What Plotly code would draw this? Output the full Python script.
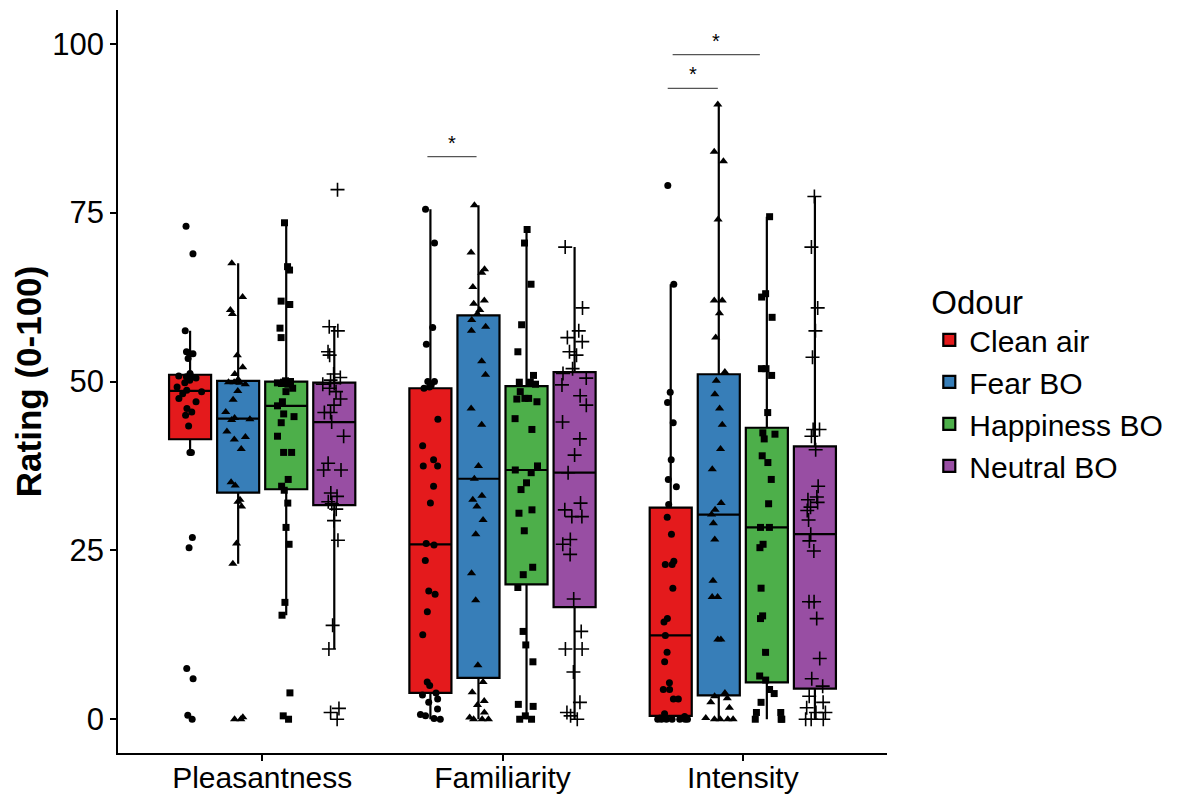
import plotly.graph_objects as go

# ---------------- data ----------------
categories = ["Pleasantness", "Familiarity", "Intensity"]
odours = ["Clean air", "Fear BO", "Happiness BO", "Neutral BO"]
colors = ["#E41A1C", "#377EB8", "#4DAF4A", "#984EA3"]
symbols = ["circle", "triangle-up", "square", "cross-thin"]

clean_air_pleasantness = [0, 0.6, 6.0, 7.5, 25.4, 26.9, 39.5, 39.5, 43.4, 45.0, 45.5, 46.0, 47.0, 47.5,
                          48.2, 48.5, 48.7, 49.2, 49.8, 50.2, 50.5, 50.7, 50.7, 50.8, 51.2, 53.4, 54.1,
                          54.1, 54.4, 57.5, 68.9, 73.0]
fear_pleasantness = [0, 0, 0.3, 23.0, 26.0, 31.5, 32.2, 32.5, 34.6, 35.1, 40.0, 41.4, 41.8, 42.6, 44.3,
                     44.4, 44.6, 45.5, 47.3, 48.6, 49.6, 49.8, 49.9, 49.9, 50.3, 51.1, 52.1, 53.9, 60.0,
                     60.6, 62.5, 67.5]
happiness_pleasantness = [0, 0.5, 3.9, 15.4, 17.3, 25.9, 28.4, 32.0, 33.9, 34.5, 35.5, 39.5, 39.5, 41.9,
                          43.9, 44.8, 45.2, 46.4, 47.0, 48.5, 49.0, 49.6, 49.7, 49.8, 49.9, 49.9, 50.0,
                          50.1, 56.5, 57.9, 61.4, 61.9, 66.5, 67.0, 73.5]
neutral_pleasantness = [0, 1.0, 1.6, 10.4, 13.9, 26.5, 29.4, 31.1, 31.9, 32.2, 33.0, 33.5, 36.9, 36.9,
                        37.9, 41.9, 44.0, 45.4, 45.4, 46.5, 47.4, 48.5, 49.0, 49.6, 49.7, 50.2, 50.6,
                        51.1, 53.9, 54.4, 57.5, 58.1, 78.4]

clean_air_familiarity = [0, 0.1, 0.5, 0.7, 1.5, 2.5, 3.0, 3.6, 3.9, 5.0, 5.5, 12.5, 15.9, 18.5, 19.0,
                         23.5, 25.8, 26.0, 32.0, 34.5, 37.5, 37.5, 38.4, 40.5, 44.4, 49.0, 49.2, 49.5,
                         50.0, 50.0, 55.5, 58.0, 70.5, 75.5]
fear_familiarity = [0, 0, 0, 0.25, 1.0, 2.1, 2.7, 4.0, 5.5, 8.0, 17.6, 21.6, 27.4, 29.5, 31.5, 32.5,
                    33.1, 35.6, 37.5, 43.6, 46.0, 51.0, 53.0, 57.5, 58.1, 59.1, 60.0, 60.6, 61.5, 62.0,
                    64.0, 66.1, 66.6, 69.1, 76.1]
happiness_familiarity = [0, 0, 0.5, 1.9, 2.2, 8.5, 11.0, 13.0, 19.5, 21.4, 22.5, 27.9, 30.5, 31.0, 34.0,
                         35.0, 36.5, 36.9, 37.5, 42.9, 44.5, 47.0, 47.4, 47.5, 47.5, 48.5, 49.6, 49.9,
                         49.9, 50.9, 54.4, 58.4, 64.4, 70.5, 72.5]
neutral_familiarity = [0, 0.5, 1.0, 2.5, 7.0, 10.4, 10.4, 13.0, 17.8, 24.4, 25.9, 26.6, 30.0, 30.0, 31.0,
                       32.0, 36.5, 39.1, 41.5, 44.0, 46.5, 47.9, 49.5, 50.5, 51.2, 51.9, 53.9, 54.4,
                       55.9, 56.5, 57.5, 60.9, 69.9]

clean_air_intensity = [0, 0, 0, 0, 0, 0, 0, 0.2, 0.4, 0.8, 3.0, 3.0, 4.4, 4.4, 5.4, 8.5, 9.9, 12.4,
                       14.4, 14.9, 19.4, 22.9, 22.9, 23.4, 27.4, 29.9, 31.8, 34.4, 35.5, 38.4, 43.9,
                       46.9, 48.4, 64.4, 79.0]
fear_intensity = [0, 0, 0, 0, 0.2, 1.7, 2.5, 3.1, 3.4, 3.9, 11.8, 11.8, 18.1, 18.1, 20.5, 26.6, 29.0,
                  30.3, 31.0, 32.0, 37.0, 40.0, 43.6, 46.0, 48.1, 50.1, 51.4, 56.5, 60.1, 62.0, 62.0,
                  74.0, 82.6, 84.0, 91.0]
happiness_intensity = [0, 0, 0, 1.0, 1.0, 2.5, 3.8, 4.4, 5.8, 6.4, 9.9, 14.9, 15.3, 19.4, 25.4, 25.9,
                       28.4, 28.4, 31.9, 35.5, 38.0, 39.0, 41.5, 42.2, 42.4, 45.4, 50.9, 51.9, 51.9,
                       59.5, 62.5, 63.0, 74.4]
neutral_intensity = [0, 0, 0, 1.0, 1.0, 1.7, 2.5, 3.4, 4.9, 6.0, 9.0, 14.9, 17.4, 17.4, 24.9, 26.4,
                     27.4, 29.5, 30.9, 31.4, 32.1, 32.5, 32.9, 34.5, 39.9, 41.9, 42.9, 42.9, 53.6,
                     57.5, 60.9, 69.9, 77.4]

# significance brackets (category-index coordinates, rating level, label)
sig_x0 = [0.6875, 1.6875, 1.708]
sig_x1 = [0.892, 1.896, 2.071]
sig_y = [83.3, 93.4, 98.4]
sig_label = ["*", "*", "*"]

ratings = {
    "Clean air": [clean_air_pleasantness, clean_air_familiarity, clean_air_intensity],
    "Fear BO": [fear_pleasantness, fear_familiarity, fear_intensity],
    "Happiness BO": [happiness_pleasantness, happiness_familiarity, happiness_intensity],
    "Neutral BO": [neutral_pleasantness, neutral_familiarity, neutral_intensity],
}

FONT = "Liberation Sans, Arial, sans-serif"

fig = go.Figure()
for name, col, sym in zip(odours, colors, symbols):
    xs, ys = [], []
    for cat, vals in zip(categories, ratings[name]):
        xs += [cat] * len(vals)
        ys += list(vals)
    if sym == "cross-thin":
        mk = dict(symbol=sym, size=10, color="black", line=dict(width=1.6, color="black"))
    elif sym == "triangle-up":
        mk = dict(symbol=sym, size=8, color="black", line=dict(width=0))
    else:
        mk = dict(symbol=sym, size=7, color="black", line=dict(width=0))
    fig.add_trace(go.Box(
        x=xs, y=ys, name=name,
        fillcolor=col, line=dict(color="black", width=2.2),
        boxpoints="all", jitter=0.8, pointpos=0, marker=mk,
        whiskerwidth=0, quartilemethod="linear",
        hoverinfo="y",
    ))

for x0, x1, yv, lab in zip(sig_x0, sig_x1, sig_y, sig_label):
    fig.add_shape(type="line", xref="x", yref="y", x0=x0, x1=x1, y0=yv, y1=yv,
                  line=dict(color="#555555", width=1.3))
    fig.add_annotation(x=(x0 + x1) / 2, y=yv, xref="x", yref="y", text=lab, showarrow=False,
                       yanchor="bottom", yshift=1, font=dict(size=20, color="black", family=FONT))

fig.update_layout(
    width=1192, height=799,
    margin=dict(l=118, r=305, t=10, b=46, autoexpand=False),
    plot_bgcolor="white", paper_bgcolor="white",
    boxmode="group", boxgap=0.2, boxgroupgap=0.125,
    font=dict(family=FONT, color="black"),
    xaxis=dict(type="category", categoryorder="array", categoryarray=categories,
               range=[-0.6, 2.6], showline=True, linecolor="black", linewidth=1.5,
               ticks="outside", ticklen=6, tickwidth=1.5, tickcolor="black", automargin=False,
               ticklabelstandoff=-9,
               tickfont=dict(size=30, color="black"), showgrid=False, zeroline=False),
    yaxis=dict(range=[-5, 105], tickvals=[0, 25, 50, 75, 100], showline=True, linecolor="black",
               linewidth=1.5, ticks="outside", ticklen=6, tickwidth=1.5, tickcolor="black",
               tickfont=dict(size=31, color="black"), showgrid=False, zeroline=False, automargin=False,
               title=dict(text="<b>Rating (0-100)</b>", font=dict(size=35, color="black"), standoff=0)),
    legend=dict(title=dict(text="Odour", font=dict(size=33)), font=dict(size=30),
                x=1.055, xanchor="left", y=0.5, yanchor="middle", tracegroupgap=0),
    showlegend=True,
)

fig.write_html("out.html")
